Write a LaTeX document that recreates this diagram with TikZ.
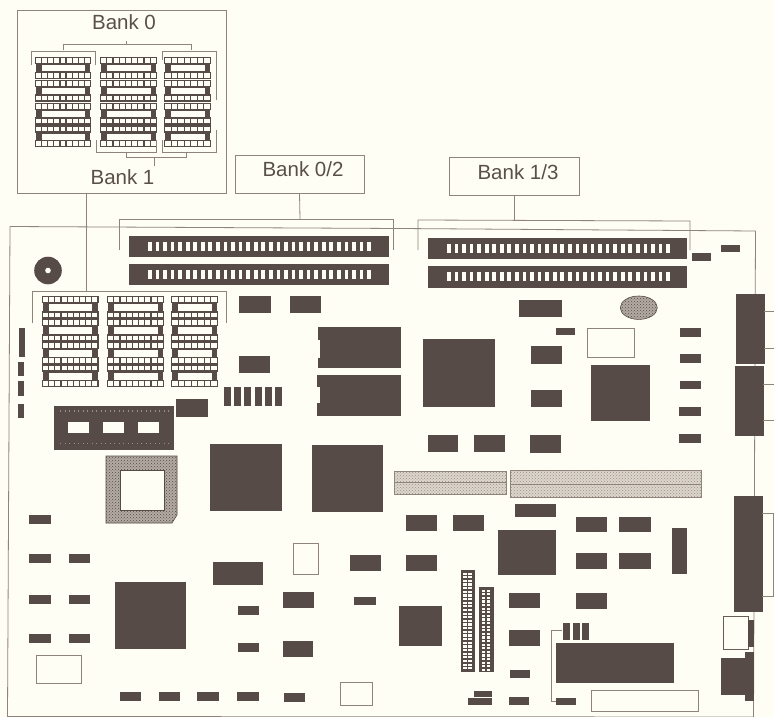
\documentclass[tikz,border=0pt]{standalone}
\usepackage{fontspec}
\setmainfont{Liberation Sans}
\usetikzlibrary{patterns}
\definecolor{paper}{HTML}{FEFEF4}
\definecolor{ink}{HTML}{564B46}
\definecolor{rule}{HTML}{8F847A}
\definecolor{label}{HTML}{5A4F49}
\definecolor{dither}{HTML}{B4ACA4}
\definecolor{pale}{HTML}{DCD6CC}
\definecolor{palepat}{HTML}{9A9088}
\tikzset{
  chip/.style={fill=ink,draw=ink,line width=0.3pt},
  blank/.style={fill=paper,draw=rule,line width=0.8pt},
  leader/.style={draw=rule,line width=0.8pt},
  hatched/.style={fill=dither,draw=ink,line width=0.6pt},
  palebar/.style={fill=pale,draw=rule,line width=0.6pt},
  bankbox/.style={draw=rule,line width=0.8pt,inner sep=0pt},
  banktext/.style={font=\fontsize{20.5}{24}\selectfont,text=label,inner sep=0pt}
}
% one memory socket: two pin strips with the clips between them
\newcommand{\socketstrip}[4]{%
  \fill [ink] (#1,#2) rectangle (#3,#2+7.4);%
  \pgfmathsetmacro{\pinstep}{(#3-#1-1.2)/#4}%
  \foreach \i in {1,...,#4} {
    \fill [paper] ({#1+1.2+(\i-1)*\pinstep},#2+1.3) rectangle ({#1+\i*\pinstep},#2+6);
  }%
}
\newcommand{\socketgroup}[5]{%
  \socketstrip{#1}{#2}{#3}{#4}%
  \socketstrip{#1}{#2+#5-7.4}{#3}{#4}%
  \draw [ink,line width=0.6pt] (#1+6,#2+7.4) rectangle (#3-6,#2+#5-7.4);%
  \fill [ink] (#1+1,#2+7) rectangle (#1+6,#2+#5-7);%
  \fill [ink] (#3-6,#2+7) rectangle (#3-1,#2+#5-7);%
}
\newcommand{\slotholes}[2]{%
  \foreach \i in {0,...,29} {
    \fill [paper] ({#1+\i*7.56},#2) rectangle ({#1+\i*7.56+3.7},#2+8.5);
  }%
}
\begin{document}
\begin{tikzpicture}[x=1pt,y=-1pt]
  \useasboundingbox (0,0) rectangle (774,717);
  \fill [paper] (0,0) rectangle (774,717);

  % Drawing board outline
  \draw [leader] (10,226.5) -- (400,228.5) -- (755.5,231) -- (753.5,717);
  \draw [leader] (10,226.5) -- (7.5,716.5) -- (753.5,717);

  % Drawing inset with bank 0 and bank 1
  \node [bankbox,minimum width=209pt,minimum height=183pt] (insetbox) at (122,101.5) {};
  \node [banktext] (bankzero) at (124,22.5) {Bank 0};
  \node [banktext] (bankone) at (122.5,177) {Bank 1};
  \foreach \ypos in {57,79.8,102.6,125.4} {
    \socketgroup{35}{\ypos}{91}{9}{22}
    \socketgroup{100}{\ypos}{157}{9}{22}
    \socketgroup{164}{\ypos}{211}{7}{22}
  }

  % Drawing inset brackets
  \coordinate (zerotick) at (126,41);
  \coordinate (zerofoot) at (126,44);
  \draw [leader] (zerotick) -- (zerofoot);
  \draw [leader] (63,50.5) -- (63,44) -- (191,44) -- (191,50.5);
  \draw [leader] (31,65) -- (31,51) -- (95,51) -- (95,65);
  \draw [leader] (162,60) -- (162,51) -- (216,51) -- (216,100);
  \draw [leader] (96,140) -- (96,152) -- (156,152) -- (156,140);
  \draw [leader] (162,140) -- (162,152) -- (216,152) -- (216,130);
  \draw [leader] (126,152) -- (126,157) -- (186,157) -- (186,152);
  \coordinate (onetick) at (154,166);
  \coordinate (onefoot) at (154,157);
  \draw [leader] (onetick) -- (onefoot);

  % Drawing bank 0/2 box and slots
  \node [bankbox,minimum width=129pt,minimum height=38pt] (bankzerotwo) at (299.5,174) {};
  \node [banktext] (bankzerotwotext) at (303,169.5) {Bank 0/2};
  \coordinate (zerotwobracket) at (300,219);
  \draw [leader] (bankzerotwo.south) -- (zerotwobracket);
  \draw [leader] (119,250) -- (119,219) -- (393,219) -- (393,250);
  \draw [chip] (129,236) rectangle (388,256);
  \draw [chip] (129,264) rectangle (388,284);
  \slotholes{148}{242}
  \slotholes{148}{270}

  % Drawing bank 1/3 box and slots
  \node [bankbox,minimum width=129.7pt,minimum height=37.7pt] (bankonethree) at (514.2,176.2) {};
  \node [banktext] (bankonethreetext) at (518,172) {Bank 1/3};
  \coordinate (onethreebracket) at (514.2,220.5);
  \draw [leader] (bankonethree.south) -- (onethreebracket);
  \draw [leader] (418,250) -- (418,220) -- (690,221) -- (690,250);
  \draw [chip] (428,238) rectangle (686,258);
  \draw [chip] (428,266) rectangle (686,287);
  \slotholes{447}{244}
  \slotholes{447}{272}

  % Drawing speaker
  \fill [ink] (48,270.5) circle (13.8);
  \fill [paper] (48,270.5) circle (2.8);

  % Drawing sockets on the board
  \foreach \ypos in {296,318.8,341.6,364.4} {
    \socketgroup{42}{\ypos}{98.5}{9}{22.8}
    \socketgroup{107}{\ypos}{164}{9}{22.8}
    \socketgroup{171}{\ypos}{218}{7}{22.8}
  }
  \coordinate (insetfoot) at (86,193);
  \coordinate (socketbracket) at (86,291);
  \draw [leader] (insetfoot) -- (socketbracket);
  \draw [leader] (32,323) -- (32,291) -- (226,291) -- (226,323);

  % Drawing left edge parts
  \draw [chip] (19,328) rectangle (24,356);
  \draw [chip] (18,362) rectangle (23.5,375.5);
  \draw [chip] (18,381) rectangle (23.5,395);
  \draw [chip] (18,404) rectangle (23.5,417.5);

  % Drawing expansion module
  \draw [chip] (54,406) rectangle (173.5,449);
  \fill [paper] (68,421.7) rectangle (89,432.7);
  \fill [paper] (103,421.7) rectangle (124,432.7);
  \fill [paper] (138,421.7) rectangle (159,432.7);
  \foreach \i in {0,...,24} {
    \fill [palepat] ({60+\i*4.5},410) rectangle +(1,1.5);
    \fill [palepat] ({60+\i*4.5},442.5) rectangle +(1,1.5);
  }

  % Drawing processor socket
  \draw [hatched] (106,456) -- (177,456) -- (177,515) -- (172,523) -- (106,523) -- cycle;
  \fill [pattern=crosshatch dots,pattern color=ink] (106,456) -- (177,456) -- (177,515) -- (172,523) -- (106,523) -- cycle;
  \draw [fill=paper,draw=ink,line width=0.8pt] (120.5,470) rectangle (164,510);

  % Drawing large chips
  \draw [chip] (210,444.5) rectangle (281,510.5);
  \draw [chip] (312.5,445) rectangle (382.5,511);
  \draw [chip] (115.5,582) rectangle (185.5,648);
  \draw [chip] (423.5,339.5) rectangle (494,406);
  \draw [chip] (591.5,365) rectangle (649,420);
  \draw [chip] (498,530) rectangle (555.5,574);
  \draw [chip] (399.5,606.5) rectangle (441.5,645.5);
  \draw [chip] (556,643.5) rectangle (673,682);

  % Drawing notched chips
  \draw [chip] (318,327.5) rectangle (400,367);
  \fill [paper] (317,340) rectangle (320,358);
  \draw [chip] (317.5,375.5) rectangle (400,415);
  \fill [paper] (316.5,387) rectangle (319.5,403);

  % Drawing middle size chips
  \draw [chip] (239.5,296) rectangle (270,312.5);
  \draw [chip] (290,296) rectangle (320,312.5);
  \draw [chip] (239.5,356.5) rectangle (269.5,372.5);
  \draw [chip] (176.5,399.5) rectangle (207,416);
  \draw [chip] (213.5,562.5) rectangle (262.5,584);
  \draw [chip] (350.5,555) rectangle (380.5,570);
  \draw [chip] (283,592.5) rectangle (313,607);
  \draw [chip] (283,641.5) rectangle (312.5,656.5);
  \draw [chip] (519,300) rectangle (561,316);
  \draw [chip] (531,346.5) rectangle (561,363);
  \draw [chip] (531,390) rectangle (561,406.5);
  \draw [chip] (428,435) rectangle (457.5,451);
  \draw [chip] (474,435) rectangle (504,451);
  \draw [chip] (530.5,435.5) rectangle (560,452);
  \draw [chip] (406.5,515.5) rectangle (436.5,530.5);
  \draw [chip] (453.5,515.5) rectangle (483,530.5);
  \draw [chip] (515.5,504) rectangle (555.5,516.5);
  \draw [chip] (576,517) rectangle (606,531.5);
  \draw [chip] (619.5,517) rectangle (650,531.5);
  \draw [chip] (576,553) rectangle (606,568);
  \draw [chip] (619.5,553) rectangle (650,568);
  \draw [chip] (672.5,528.5) rectangle (686,573);
  \draw [chip] (406,555) rectangle (436,570);
  \draw [chip] (509,593) rectangle (539.5,607.5);
  \draw [chip] (576,593.5) rectangle (606,608);
  \draw [chip] (509,630.5) rectangle (539,645.5);

  % Drawing row of six resistors
  \foreach \i in {0,...,5} {
    \draw [chip] ({224+\i*10.3},387) rectangle ({230+\i*10.3},405);
  }

  % Drawing three small parts above the large chip
  \foreach \xpos in {563.5,573,582.5} {
    \draw [chip] (\xpos,623.5) rectangle (\xpos+6,639);
  }

  % Drawing small parts
  \draw [chip] (29.5,515.5) rectangle (50,523);
  \foreach \ypos in {554,595,634.5} {
    \draw [chip] (29,\ypos) rectangle (50,\ypos+8);
    \draw [chip] (69,\ypos) rectangle (89,\ypos+8);
  }
  \draw [chip] (120,692.5) rectangle (140,700);
  \draw [chip] (159.5,692.5) rectangle (179.5,700);
  \draw [chip] (197.5,692.5) rectangle (218,700);
  \draw [chip] (237.5,692.5) rectangle (258,700);
  \draw [chip] (284,693.5) rectangle (304,701);
  \draw [chip] (238,606.5) rectangle (258,614);
  \draw [chip] (238,643.5) rectangle (258,651);
  \draw [chip] (354.5,597.5) rectangle (375.5,604.5);
  \draw [chip] (556.5,328.5) rectangle (574,334.5);
  \draw [chip] (692,253.5) rectangle (710,260);
  \draw [chip] (721.5,245.5) rectangle (739.5,251.5);
  \draw [chip] (680,328.5) rectangle (700.5,336);
  \draw [chip] (680,354) rectangle (700.5,362);
  \draw [chip] (680,381) rectangle (700.5,388.5);
  \draw [chip] (679.5,407.5) rectangle (700,415);
  \draw [chip] (679.5,434) rectangle (700,442);
  \draw [chip] (510,670) rectangle (529.5,677.5);
  \draw [chip] (474.5,691) rectangle (491,696);
  \draw [chip] (468.5,698) rectangle (491,704);
  \draw [chip] (509.5,697.5) rectangle (528.5,704);
  \draw [chip] (556,698.5) rectangle (575,704.5);

  % Drawing blank outlines
  \draw [blank] (293.5,543.5) rectangle (318,574.5);
  \draw [blank] (36,655) rectangle (81,683);
  \draw [blank] (340.5,682) rectangle (372.5,705);
  \draw [blank] (587.5,328.5) rectangle (634,357);
  \draw [blank] (591.5,690) rectangle (698,711.5);

  % Drawing battery
  \draw [hatched] (638.8,307.7) ellipse (18.5 and 11.7);
  \fill [pattern=crosshatch dots,pattern color=ink] (638.8,307.7) ellipse (18.5 and 11.7);

  % Drawing long hatched connectors
  \draw [palebar] (394,471) rectangle (506.5,494);
  \fill [pattern=crosshatch dots,pattern color=palepat] (394,471) rectangle (506.5,494);
  \draw [rule,line width=0.6pt] (394,482.5) -- (506.5,482.5);
  \draw [palebar] (510.5,470.5) rectangle (701.5,497);
  \fill [pattern=crosshatch dots,pattern color=palepat] (510.5,470.5) rectangle (701.5,497);
  \draw [rule,line width=0.6pt] (510.5,484) -- (701.5,484);

  % Drawing pin headers
  \draw [chip] (460.7,570) rectangle (474.3,671);
  \draw [chip] (479,587.5) rectangle (493,671);
  \foreach \i in {0,...,26} {
    \fill [paper] (463,{572.5+\i*3.64}) rectangle +(3.6,2.2);
    \fill [paper] (468.2,{572.5+\i*3.64}) rectangle +(3.6,2.2);
  }
  \foreach \i in {0,...,22} {
    \fill [paper] (481.5,{587+2.5+\i*3.6}) rectangle +(3.6,2.2);
    \fill [paper] (486.7,{587+2.5+\i*3.6}) rectangle +(3.6,2.2);
  }

  % Drawing bracket at the bottom
  \draw [leader] (562,630.7) -- (551,630.7) -- (551,701.3) -- (556,701.3);

  % Drawing rear connectors
  \draw [chip] (735.7,294) rectangle (764,362.7);
  \draw [chip] (734.7,365.7) rectangle (763,434.7);
  \draw [chip] (734,496) rectangle (762,611);
  \draw [leader] (764,311.7) -- (774,311.7);
  \draw [leader] (764,348) -- (774,348);
  \draw [leader] (763,384) -- (774,384);
  \draw [leader] (763,420) -- (774,420);
  \draw [leader] (762,513.5) -- (773.5,513.5) -- (773.5,596.5) -- (762,596.5);

  % Drawing small rear ports
  \draw [blank,draw=ink!70!rule] (723,616) rectangle (748,649.5);
  \draw [chip] (748.5,620) rectangle (753.5,646.5);
  \draw [chip] (721.5,658.5) -- (745,658.5) -- (745,652) -- (753,652) -- (753,700) -- (745,700) -- (745,694) -- (721.5,694) -- cycle;
\end{tikzpicture}
\end{document}
